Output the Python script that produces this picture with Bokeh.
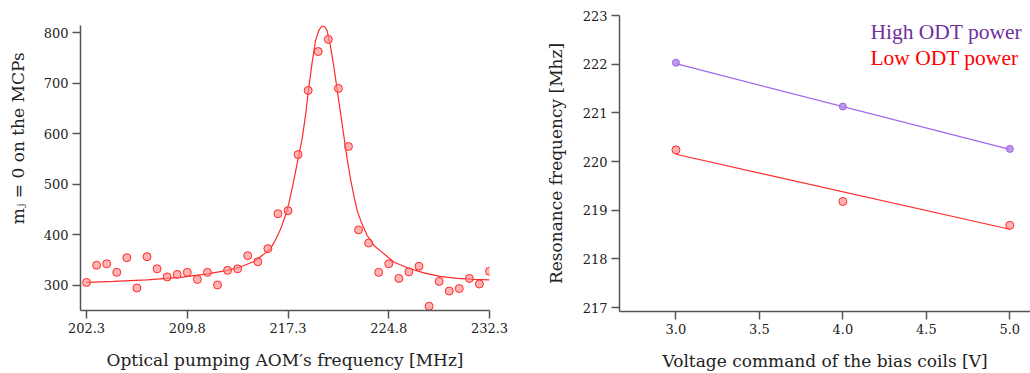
from bokeh.plotting import figure
from bokeh.models import FixedTicker, NumeralTickFormatter, Label, Range1d
from bokeh.layouts import row
from bokeh.embed import file_html
from bokeh.resources import INLINE

# ---- Left panel: optical pumping resonance ----
aom_freq = [202.3, 203.05, 203.8, 204.55, 205.3, 206.05, 206.8, 207.55, 208.3, 209.05,
            209.8, 210.55, 211.3, 212.05, 212.8, 213.55, 214.3, 215.05, 215.8, 216.55,
            217.3, 218.05, 218.8, 219.55, 220.3, 221.05, 221.8, 222.55, 223.3, 224.05,
            224.8, 225.55, 226.3, 227.05, 227.8, 228.55, 229.3, 230.05, 230.8, 231.55, 232.3]
mcp_counts = [306, 340, 343, 326, 355, 295, 357, 333, 317, 322,
              326, 312, 326, 301, 330, 333, 359, 347, 373, 442,
              448, 559, 686, 763, 787, 690, 575, 410, 384, 326,
              343, 314, 327, 338, 259, 308, 289, 294, 314, 303, 328]

# fitted curve
fit_freq = [202.3, 204.3, 206.8, 209.3, 211.3, 212.8, 213.8, 214.8, 215.5, 216.0,
            216.4, 216.75, 217.1, 217.35, 217.6, 217.85, 218.1, 218.35, 218.6, 218.85,
            219.1, 219.35, 219.6, 219.75, 219.9, 220.05, 220.2, 220.45, 220.7, 220.95,
            221.2, 221.45, 221.7, 221.95, 222.2, 222.45, 222.8, 223.2, 223.7, 224.2,
            225.2, 226.2, 227.4, 228.6, 229.9, 231.1, 232.3]
fit_counts = [306, 308, 311, 316, 323, 330, 337, 348, 362, 373,
              392, 412, 438, 461, 491, 524, 557, 590, 636, 692,
              742, 785, 805, 811, 814, 811, 805, 775, 735, 689,
              643, 597, 551, 511, 478, 448, 422, 399, 379, 368,
              346, 335, 325, 318, 314, 312, 311]

freq_ticks = [202.3, 209.8, 217.3, 224.8, 232.3]
count_ticks = [300, 400, 500, 600, 700, 800]

# ---- Right panel: resonance vs bias coil voltage ----
bias_voltage = [3.0, 4.0, 5.0]
high_odt = [222.03, 221.13, 220.26]
low_odt = [220.24, 219.18, 218.69]
fit_voltage = [3.0, 5.0]
high_fit = [222.01, 220.25]
low_fit = [220.15, 218.61]

volt_ticks = [3.0, 3.5, 4.0, 4.5, 5.0]
res_ticks = [217, 218, 219, 220, 221, 222, 223]

SERIF = "DejaVu Serif"
AX = "#555555"
TXT = "#222222"


def style(p):
    p.xgrid.visible = False
    p.ygrid.visible = False
    p.outline_line_color = None
    p.background_fill_color = "white"
    p.border_fill_color = "white"
    p.frame_align = False
    for ax in (p.xaxis[0], p.yaxis[0]):
        ax.axis_line_color = AX
        ax.axis_line_width = 1.5
        ax.major_tick_line_color = AX
        ax.major_tick_line_width = 1.5
        ax.major_tick_out = 8
        ax.major_tick_in = 0
        ax.minor_tick_line_color = None
        ax.major_label_text_font = SERIF
        ax.major_label_text_font_size = "13px"
        ax.major_label_text_color = TXT
        ax.major_label_standoff = 4
        ax.axis_label_text_font = SERIF
        ax.axis_label_text_font_size = "17px"
        ax.axis_label_text_font_style = "normal"
        ax.axis_label_text_color = TXT
        ax.axis_label_standoff = 14


p1 = figure(width=520, height=373, output_backend="svg", toolbar_location=None,
            x_range=Range1d(201.85, 232.3), y_range=Range1d(250.5, 814.5),
            min_border_left=80, min_border_right=31, min_border_top=25, min_border_bottom=63)
style(p1)
p1.xaxis.ticker = FixedTicker(ticks=freq_ticks)
p1.yaxis.ticker = FixedTicker(ticks=count_ticks)
p1.xaxis.axis_label = "Optical pumping AOM\u2032s frequency [MHz]"
# leading no-break spaces shift the title upward, as in the reference
p1.yaxis.axis_label = "\u00a0" * 11 + "m\u2c7c = 0 on the MCPs"
p1.yaxis.axis_label_standoff = 13
p1.line(fit_freq, fit_counts, line_color="#ff2a2a", line_width=1.2)
p1.scatter(aom_freq, mcp_counts, size=8, fill_color="#ff8a8a", fill_alpha=0.65,
           line_color="#ff2a2a", line_width=1)

p2 = figure(width=510, height=373, output_backend="svg", toolbar_location=None,
            x_range=Range1d(2.662, 5.124), y_range=Range1d(216.92, 223.0),
            min_border_left=99, min_border_right=0, min_border_top=15, min_border_bottom=62)
style(p2)
p2.xaxis.ticker = FixedTicker(ticks=volt_ticks)
p2.xaxis.formatter = NumeralTickFormatter(format="0.0")
p2.yaxis.ticker = FixedTicker(ticks=res_ticks)
p2.xaxis.axis_label = "Voltage command of the bias coils [V]"
p2.yaxis.axis_label = "Resonance frequency [Mhz]"
p2.line(fit_voltage, high_fit, line_color="#a066f0", line_width=1.2)
p2.line(fit_voltage, low_fit, line_color="#ff2a2a", line_width=1.2)
p2.scatter(bias_voltage, high_odt, size=7, fill_color="#b48be6", fill_alpha=0.85,
           line_color="#9a62e0", line_width=1)
p2.scatter(bias_voltage, low_odt, size=8, fill_color="#ff8a8a", fill_alpha=0.65,
           line_color="#ff2a2a", line_width=1)

p2.add_layout(Label(x=4.165, y=222.67, text="High ODT power", text_font="Liberation Serif",
                    text_font_size="21.5px", text_color="#7030a0", text_baseline="middle"))
p2.add_layout(Label(x=4.165, y=222.13, text="Low ODT power", text_font="Liberation Serif",
                    text_font_size="21.5px", text_color="#ff0000", text_baseline="middle"))

layout = row(p1, p2)
open("out.html", "w").write(file_html(layout, INLINE))
